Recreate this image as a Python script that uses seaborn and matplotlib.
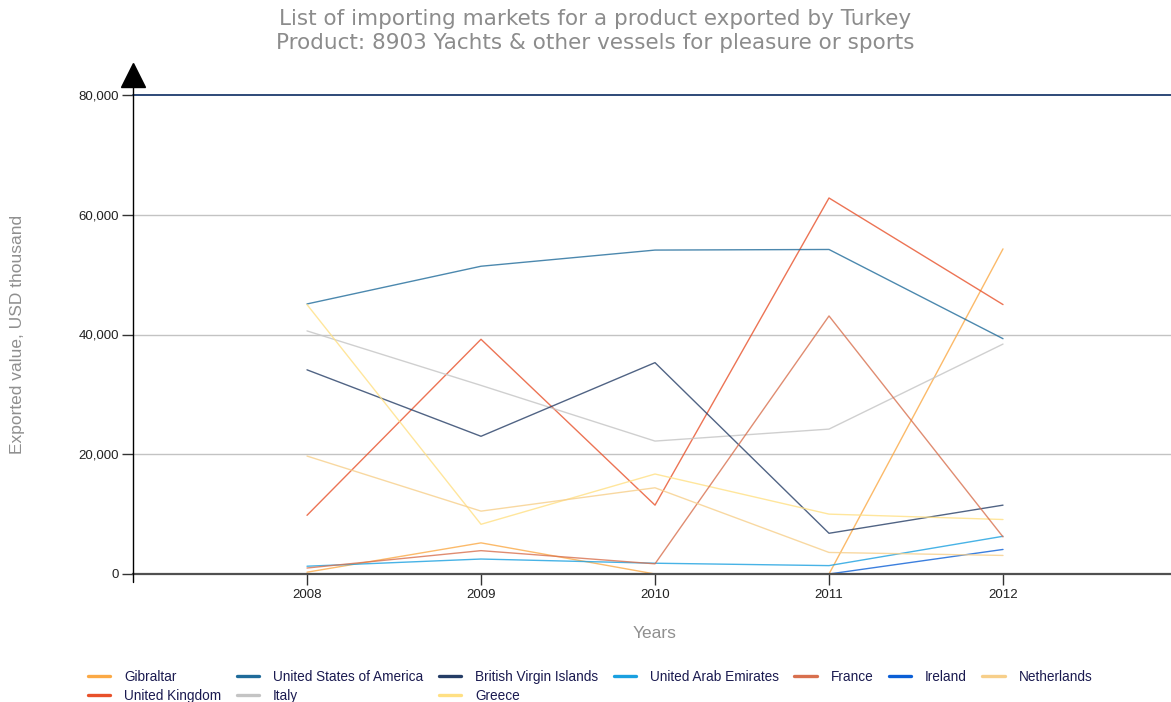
import numpy as np
import pandas as pd
import matplotlib
matplotlib.use("Agg")
import matplotlib.pyplot as plt
import seaborn as sns

# Exported value (USD thousand) of HS 8903 from Turkey, by importing market
years = [2008, 2009, 2010, 2011, 2012]
gibraltar = [300, 5200, 0, 0, 54300]
united_kingdom = [9800, 39200, 11500, 62800, 45000]
united_states = [45100, 51400, 54100, 54200, 39300]
italy = [40600, 31500, 22200, 24200, 38400]
british_virgin_islands = [34100, 23000, 35300, 6800, 11500]
greece = [45000, 8300, 16700, 10000, 9100]
united_arab_emirates = [1300, 2500, 1800, 1400, 6300]
france = [1000, 3900, 1700, 43100, 6200]
ireland = [np.nan, np.nan, np.nan, 0, 4100]
netherlands = [19700, 10500, 14400, 3600, 3100]

markets = [
    "Gibraltar", "United Kingdom", "United States of America", "Italy",
    "British Virgin Islands", "Greece", "United Arab Emirates", "France",
    "Ireland", "Netherlands",
]
series = [
    gibraltar, united_kingdom, united_states, italy, british_virgin_islands,
    greece, united_arab_emirates, france, ireland, netherlands,
]
colors = [
    "#fba945", "#e8512a", "#1f6b9a", "#c4c4c4", "#253d66",
    "#ffe083", "#1aa0e0", "#d8704e", "#0b5fd6", "#f7cf8a",
]
y_ticks = [0, 20000, 40000, 60000, 80000]
y_tick_labels = ["0", "20,000", "40,000", "60,000", "80,000"]

df = pd.DataFrame(
    [(m, y, v) for m, vals in zip(markets, series) for y, v in zip(years, vals)],
    columns=["market", "year", "value"],
).dropna()

sns.set_theme(style="white")
plt.rcParams["font.family"] = ["Liberation Sans", "DejaVu Sans"]

W, H = 1171, 702
fig = plt.figure(figsize=(W / 100, H / 100), dpi=100)
ax = fig.add_axes([133 / W, 1 - 574 / H, 1 - 133 / W, (574 - 95) / H])

sns.lineplot(
    data=df, x="year", y="value", hue="market", hue_order=markets,
    palette=dict(zip(markets, colors)), linewidth=1.0, alpha=0.8,
    legend=True, ax=ax, estimator=None, sort=False,
)

ax.set_xlim(2007.0, 2012 + (W - 1003) / 174)
ax.set_ylim(0, 80000)

# horizontal gridlines
for v in y_ticks[1:-1]:
    ax.axhline(v, color="#c3c3c3", lw=1.0, zorder=0)
ax.axhline(80000, color="#2d4a78", lw=1.4, zorder=1, clip_on=False)

for s in ["top", "right", "left"]:
    ax.spines[s].set_visible(False)
ax.spines["bottom"].set_color("#505050")
ax.spines["bottom"].set_linewidth(1.6)
ax.spines["bottom"].set_zorder(3)

# vertical axis with arrow head
ax.plot([0, 0], [-8 / 479, 1 + 8 / 479], transform=ax.transAxes,
        color="black", lw=1.0, clip_on=False, zorder=4)
ax.plot([0], [1 + (95 - 75) / 479], transform=ax.transAxes, marker="^",
        markersize=17, color="black", clip_on=False, zorder=5)

ax.set_xticks(years)
ax.set_xticklabels([str(y) for y in years])
ax.set_yticks(y_ticks)
ax.set_yticklabels(y_tick_labels)
ax.tick_params(axis="y", left=True, direction="out", length=8, width=1,
               color="#333333", pad=2, labelsize=9.5, labelcolor="#222222")
ax.tick_params(axis="x", bottom=True, direction="out", length=8, width=1,
               color="#333333", pad=3, labelsize=9.5, labelcolor="#222222")

ax.set_xlabel("Years", fontsize=12.5, color="#8f8f8f")
ax.set_ylabel("Exported value, USD thousand", fontsize=12.5, color="#8f8f8f")
ax.xaxis.set_label_coords((655 - 133) / (W - 133), (574 - 633) / 479)
ax.xaxis.label.set_va("center")
ax.yaxis.set_label_coords((18 - 133) / (W - 133), 0.5)
ax.yaxis.label.set_va("center")

fig.text(595 / W, 1 - 31 / H,
         "List of importing markets for a product exported by Turkey\n"
         "Product: 8903 Yachts & other vessels for pleasure or sports",
         ha="center", va="center", fontsize=15.5, color="#8c8c8c",
         family=["DejaVu Sans"], linespacing=1.2)

handles, labels = ax.get_legend_handles_labels()
ax.get_legend().remove()
leg = fig.legend(
    handles, labels, ncol=7, loc="upper left",
    bbox_to_anchor=(88 / W, 1 - 670 / H), frameon=False, borderpad=0,
    borderaxespad=0, handlelength=1.65, handletextpad=1.0,
    columnspacing=1.15, labelspacing=0.35, fontsize=9.8,
)
for line in leg.get_lines():
    line.set_linewidth(2.4)
    line.set_alpha(1.0)
for t in leg.get_texts():
    t.set_color("#1a1a50")

fig.savefig("out.png", dpi=100)
